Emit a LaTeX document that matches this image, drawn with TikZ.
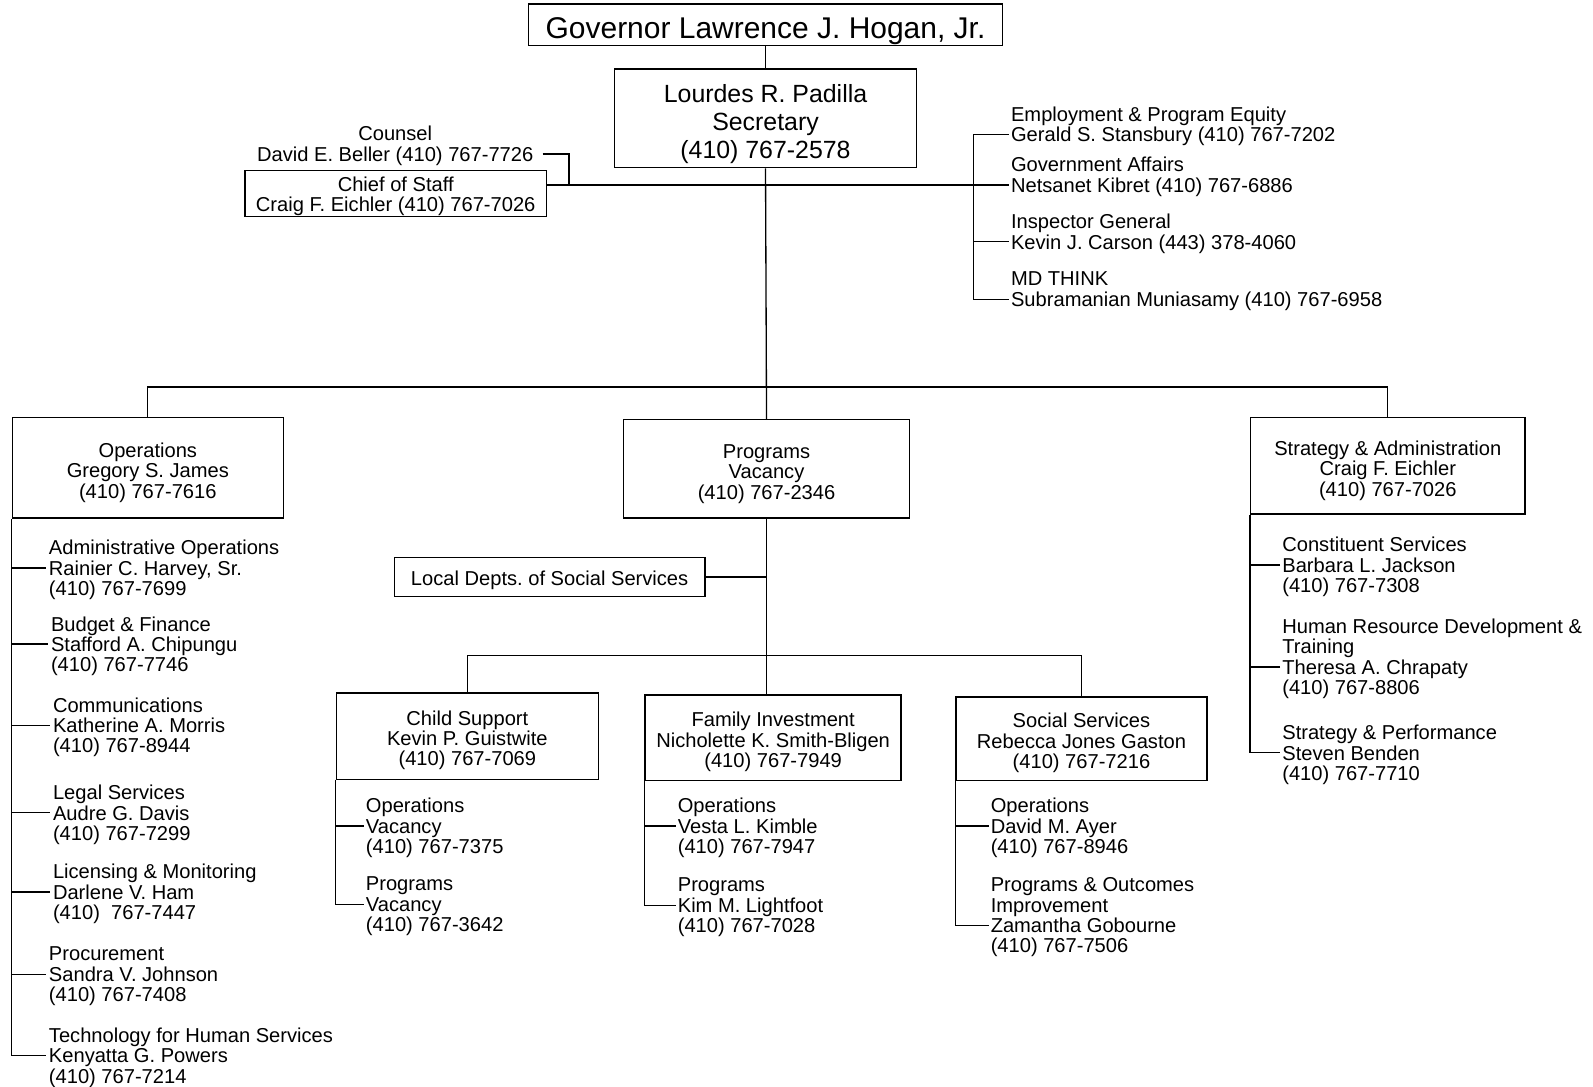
\documentclass[tikz,border=0pt]{standalone}
\usepackage{fontspec}
\setmainfont{Liberation Sans}
\frenchspacing
\newcommand\fs{\fontsize{19.8}{20}\selectfont}
\newcommand\dn[1]{\rule{0pt}{#1}}
\begin{document}
\begin{tikzpicture}[x=1pt,y=-1pt,
 box/.style={draw,line width=1.3pt,inner sep=0pt,align=center,font=\fs},
 item/.style={anchor=west,align=left,inner sep=0pt,font=\fs},
 conn/.style={line width=1.3pt}]
\useasboundingbox (0,0) rectangle (1568,1069);
\fill[white] (0,0) rectangle (1568,1069);

% top
\node[box,minimum width=467pt,minimum height=41pt,font=\fontsize{29.5}{32}\selectfont] (gov) at (753.5,24.5) {\dn{32pt}Governor Lawrence J. Hogan, Jr.};
\node[box,minimum width=297pt,minimum height=97pt,font=\fontsize{24.5}{28}\selectfont] (sec) at (753.5,116.5) {\dn{29pt}Lourdes R. Padilla\\Secretary\\(410) 767-2578};
\node[item,anchor=center,align=center] (counsel) at (389,143.5) {Counsel\\David E. Beller (410) 767-7726};
\node[box,minimum width=297pt,minimum height=45pt] (cos) at (389.5,190.5) {\dn{20pt}Chief of Staff\\Craig F. Eichler (410) 767-7026};

\node[item] (e1) at (995,124.5) {Employment \& Program Equity\\Gerald S. Stansbury (410) 767-7202};
\node[item] (e2) at (995,174) {Government Affairs\\Netsanet Kibret (410) 767-6886};
\node[item] (e3) at (995,230) {Inspector General\\Kevin J. Carson (443) 378-4060};
\node[item] (e4) at (995,286.5) {MD THINK\\Subramanian Muniasamy (410) 767-6958};

% second level
\node[box,minimum width=267pt,minimum height=99pt] (ops) at (145.5,460.5) {\dn{24pt}Operations\\Gregory S. James\\(410) 767-7616};
\node[box,minimum width=281pt,minimum height=97pt] (prog) at (754.5,461.5) {\dn{24pt}Programs\\Vacancy\\(410) 767-2346};
\node[box,minimum width=270pt,minimum height=95pt] (strat) at (1366,458.5) {\dn{24pt}Strategy \& Administration\\Craig F. Eichler\\(410) 767-7026};
\node[box,minimum width=306pt,minimum height=38pt] (ldss) at (541,568) {\dn{20.5pt}Local Depts. of Social Services};

% third level
\node[box,minimum width=258pt,minimum height=85pt] (child) at (460,724.5) {\dn{23pt}Child Support\\Kevin P. Guistwite\\(410) 767-7069};
\node[box,minimum width=252pt,minimum height=84pt] (family) at (761,726) {\dn{23pt}Family Investment\\Nicholette K. Smith-Bligen\\(410) 767-7949};
\node[box,minimum width=247pt,minimum height=82pt] (social) at (1064.5,727) {\dn{23pt}Social Services\\Rebecca Jones Gaston\\(410) 767-7216};

% operations items
\node[item] (o1) at (48,561) {Administrative Operations\\Rainier C. Harvey, Sr.\\(410) 767-7699};
\node[item] (o2) at (50,636) {Budget \& Finance\\Stafford A. Chipungu\\(410) 767-7746};
\node[item] (o3) at (52,716) {Communications\\Katherine A. Morris\\(410) 767-8944};
\node[item] (o4) at (52,802) {Legal Services\\Audre G. Davis\\(410) 767-7299};
\node[item] (o5) at (52,880) {Licensing \& Monitoring\\Darlene V. Ham\\(410)\ \ 767-7447};
\node[item] (o6) at (48,961) {Procurement\\Sandra V. Johnson\\(410) 767-7408};
\node[item] (o7) at (48,1041) {Technology for Human Services\\Kenyatta G. Powers\\(410) 767-7214};

% strategy items
\node[item] (s1) at (1262,558) {Constituent Services\\Barbara L. Jackson\\(410) 767-7308};
\node[item] (s2) at (1262,648.5) {Human Resource Development \&\\Training\\Theresa A. Chrapaty\\(410) 767-8806};
\node[item] (s3) at (1262,743) {Strategy \& Performance\\Steven Benden\\(410) 767-7710};

% child / family / social items
\node[item] (c1) at (360,815) {Operations\\Vacancy\\(410) 767-7375};
\node[item] (c2) at (360,892) {Programs\\Vacancy\\(410) 767-3642};
\node[item] (f1) at (667,815) {Operations\\Vesta L. Kimble\\(410) 767-7947};
\node[item] (f2) at (667,893) {Programs\\Kim M. Lightfoot\\(410) 767-7028};
\node[item] (so1) at (975,815) {Operations\\David M. Ayer\\(410) 767-8946};
\node[item] (so2) at (975,903) {Programs \& Outcomes\\Improvement\\Zamantha Gobourne\\(410) 767-7506};

% helper coordinates
\coordinate (hl) at (754,182);
\coordinate (cj) at (560,182);
\coordinate (rb) at (958,182);
\coordinate (bus) at (754,381);
\path ([xshift=-2pt,yshift=-8pt]e1.west) coordinate (e1n)
      ([xshift=-2pt,yshift=-8pt]e3.west) coordinate (e3n)
      ([xshift=-2pt,yshift=-8pt]e4.west) coordinate (e4n)
      ([xshift=9pt,yshift=-8pt]counsel.east) coordinate (cn)
      ([xshift=-2pt,yshift=-8pt]s2.west) coordinate (s2n)
      ([xshift=-2pt,yshift=-8pt]so2.west) coordinate (so2n);

% connectors top
\draw[conn] (gov.south) -- (gov.south |- sec.north);
\draw[conn] (sec.south) -- (prog.north);
\draw[conn] (cos.east |- hl) -- ([xshift=-2pt]e2.west |- hl);
\draw[conn] (cn) -| (cj);
\draw[conn] (e1n) -| (rb |- e4n) -- (e4n);
\draw[conn] (e3n) -- (rb |- e3n);

% bus
\draw[conn] (ops.north) |- (bus) -| (strat.north);

% programs
\draw[conn] (prog.south) -- (prog.south |- family.north);
\draw[conn] (ldss.east) -- (ldss.east -| prog.south);
\draw[conn] (child.north) |- (prog.south |- 0,645) -| (social.north);

% operations bracket
\draw[conn] (ops.south west) |- ([xshift=-3pt,yshift=2pt]o7.west);
\foreach \i in {o1,o2,o3,o4,o5,o6} \draw[conn] ([xshift=-3pt,yshift=2pt]\i.west) -- ([yshift=2pt]\i.west -| ops.west);

% strategy bracket
\draw[conn] (strat.south west) |- ([xshift=-2pt,yshift=2pt]s3.west);
\draw[conn] ([xshift=-2pt,yshift=2pt]s1.west) -- ([yshift=2pt]s1.west -| strat.west);
\draw[conn] (s2n) -- (s2n -| strat.west);

% child / family / social brackets
\draw[conn] (child.south west) |- ([xshift=-2pt,yshift=2pt]c2.west);
\draw[conn] ([xshift=-2pt,yshift=2pt]c1.west) -- ([yshift=2pt]c1.west -| child.west);
\draw[conn] (family.south west) |- ([xshift=-2pt,yshift=2pt]f2.west);
\draw[conn] ([xshift=-2pt,yshift=2pt]f1.west) -- ([yshift=2pt]f1.west -| family.west);
\draw[conn] (social.south west) |- (so2n);
\draw[conn] ([xshift=-2pt,yshift=2pt]so1.west) -- ([yshift=2pt]so1.west -| social.west);
\end{tikzpicture}
\end{document}
